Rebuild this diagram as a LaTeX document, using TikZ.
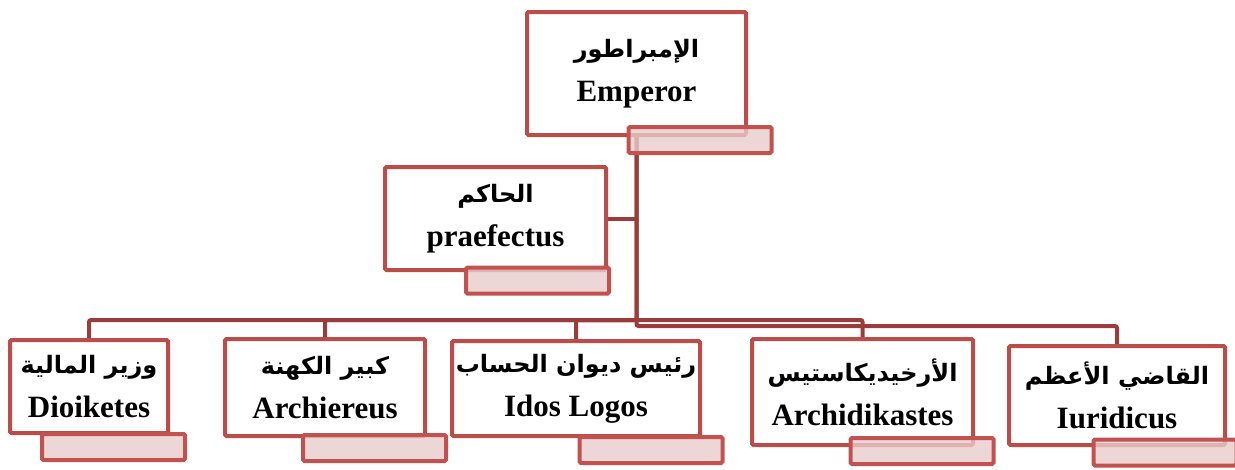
\documentclass[tikz,border=0pt]{standalone}
\usepackage{fontspec}
\setmainfont{Liberation Serif}
\newfontfamily\arabicfont[Script=Arabic]{DejaVu Sans}
\TeXXeTstate=1
\usepackage{tikz}
\usetikzlibrary{positioning,backgrounds}
\usepackage{xcolor}
\definecolor{boxred}{RGB}{186,76,74}
\definecolor{linkred}{RGB}{155,60,60}
\definecolor{tagred}{RGB}{194,82,79}
\definecolor{tagfill}{RGB}{233,204,204}
\newcommand{\arline}[1]{{\arabicfont\fontsize{24}{44}\selectfont\beginR #1\endR}}

\begin{document}
\begin{tikzpicture}[
  x=1pt, y=-1pt,
  % office boxes
  post/.style={draw=boxred, line width=4pt, fill=white, rounded corners=1.5pt,
               inner sep=0pt, align=center,
               font=\fontsize{31}{44}\selectfont\bfseries},
  tag/.style={draw=tagred, line width=4pt, fill=tagfill, fill opacity=0.8,
              rounded corners=1.5pt, inner sep=0pt,
              minimum width=143pt, minimum height=26pt},
  link/.style={draw=linkred, line width=4pt, rounded corners=2pt}
]
  \useasboundingbox (0,0) rectangle (1235,469);

  % =============================================================
  % Offices
  % =============================================================
  \node[post, minimum width=219pt, minimum height=123pt] (emp) at (636.5,73.5)
       {\arline{الإمبراطور}\\Emperor};
  \node[post, minimum width=221pt, minimum height=103pt] (praef) at (495.5,218.5)
       {\arline{الحاكم}\\praefectus};

  % bottom row
  \node[post, minimum width=158pt, minimum height=93pt] (dio) at (89,386.5)
       {\arline{وزير المالية}\\Dioiketes};
  \node[post, minimum width=200pt, minimum height=97pt] (archi) at (325,387.5)
       {\arline{كبير الكهنة}\\Archiereus};
  \node[post, minimum width=248pt, minimum height=95pt] (idos) at (576,388.5)
       {\arline{رئيس ديوان الحساب}\\Idos Logos};
  \node[post, minimum width=221pt, minimum height=106pt] (dika) at (862.5,392)
       {\arline{الأرخيديكاستيس}\\Archidikastes};
  \node[post, minimum width=216pt, minimum height=99pt] (iuri) at (1117,395.5)
       {\arline{القاضي الأعظم}\\Iuridicus};

  % =============================================================
  % Connectors (behind the boxes)
  % =============================================================
  \coordinate (busA) at (emp.south |- 0,320);
  \coordinate (busB) at (emp.south |- 0,326);
  \begin{scope}[on background layer]
    \draw[link] (praef.east) -- (praef.east -| emp.south);
    \draw[link] (emp.south) -- (busB) -| (iuri.north);
    \draw[link] (emp.south) -- (busA) -| (dio.north);
    \draw[link] (busA) -| (archi.north);
    \draw[link] (busA) -| (idos.north);
    \draw[link] (busA) -| (dika.north);
  \end{scope}

  % =============================================================
  % Tags
  % =============================================================
  \node[tag] (empTag)   at (700,140)     {};
  \node[tag] (praefTag) at (537.5,280.5) {};
  \node[tag] (dioTag)   at (113.5,447)   {};
  \node[tag] (archiTag) at (374.5,448)   {};
  \node[tag] (idosTag)  at (651,450)     {};
  \node[tag] (dikaTag)  at (922,451)     {};
  \node[tag] (iuriTag)  at (1165,452.5)  {};
\end{tikzpicture}
\end{document}
